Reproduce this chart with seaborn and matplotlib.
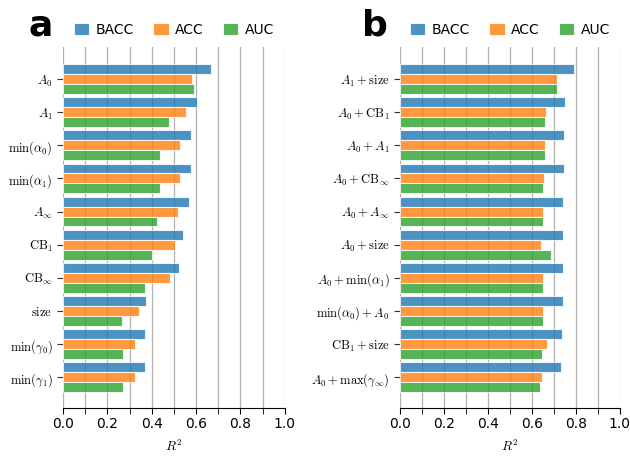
import pandas as pd
import numpy as np
import matplotlib
matplotlib.use("Agg")
import matplotlib.pyplot as plt
from matplotlib.ticker import MultipleLocator
import seaborn as sns

# data
metrics = ['BACC', 'ACC', 'AUC']

feat_a = [r'$A_0$', r'$A_1$', r'$\min(\alpha_0)$', r'$\min(\alpha_1)$', r'$A_\infty$',
          r'$\mathrm{CB}_1$', r'$\mathrm{CB}_\infty$', r'$\mathrm{size}$',
          r'$\min(\gamma_0)$', r'$\min(\gamma_1)$']
bacc_a = [0.668, 0.606, 0.578, 0.578, 0.568, 0.540, 0.522, 0.374, 0.371, 0.371]
acc_a = [0.582, 0.554, 0.528, 0.528, 0.519, 0.503, 0.482, 0.341, 0.323, 0.323]
auc_a = [0.590, 0.476, 0.437, 0.437, 0.423, 0.401, 0.368, 0.264, 0.269, 0.269]

feat_b = [r'$A_1+\mathrm{size}$', r'$A_0+\mathrm{CB}_1$', r'$A_0+A_1$',
          r'$A_0+\mathrm{CB}_\infty$', r'$A_0+A_\infty$', r'$A_0+\mathrm{size}$',
          r'$A_0+\min(\alpha_1)$', r'$\min(\alpha_0)+A_0$', r'$\mathrm{CB}_1+\mathrm{size}$',
          r'$A_0+\max(\gamma_\infty)$']
bacc_b = [0.790, 0.748, 0.747, 0.744, 0.739, 0.739, 0.739, 0.739, 0.736, 0.733]
acc_b = [0.712, 0.662, 0.661, 0.655, 0.649, 0.640, 0.649, 0.649, 0.667, 0.644]
auc_b = [0.712, 0.661, 0.661, 0.652, 0.649, 0.685, 0.649, 0.649, 0.645, 0.635]

colors = ['tab:blue', 'tab:orange', 'tab:green']

plt.rcParams['mathtext.fontset'] = 'cm'
plt.rcParams['font.family'] = 'DejaVu Sans'


def long_form(feats, bacc, acc, auc):
    rows = []
    for vals, m in zip([bacc, acc, auc], metrics):
        for f, v in zip(feats, vals):
            rows.append({'feature': f, 'metric': m, 'value': v})
    return pd.DataFrame(rows)


fig = plt.figure(figsize=(6.3, 4.57), dpi=100)
ax_a = fig.add_axes([0.100, 0.108, 0.352, 0.790])
ax_b = fig.add_axes([0.635, 0.108, 0.349, 0.790])

panels = [(ax_a, long_form(feat_a, bacc_a, acc_a, auc_a), feat_a),
          (ax_b, long_form(feat_b, bacc_b, acc_b, auc_b), feat_b)]

for ax, df, feats in panels:
    sns.barplot(data=df, y='feature', x='value', hue='metric', order=feats,
                hue_order=metrics, palette=colors, saturation=1, orient='h',
                width=0.9, alpha=0.8, edgecolor='white', linewidth=0.8, ax=ax)
    ax.set_xlim(0, 1.0)
    ax.set_ylim(9.92, -0.98)
    ax.xaxis.set_major_locator(MultipleLocator(0.2))
    ax.xaxis.set_minor_locator(MultipleLocator(0.1))
    ax.grid(True, axis='x', which='both', color='#b0b0b0', linewidth=0.9)
    ax.set_axisbelow(True)
    for s in ['top', 'right', 'left']:
        ax.spines[s].set_visible(False)
    ax.spines['bottom'].set_color('black')
    ax.tick_params(axis='x', which='both', length=4, pad=3, labelsize=10, color='black')
    ax.tick_params(axis='y', length=4, labelsize=9, color='#333333')
    ax.set_xlabel(r'$R^2$', fontsize=9.5, labelpad=5)
    ax.set_ylabel('')
    if ax.get_legend() is not None:
        ax.get_legend().remove()
    handles, labels = ax.get_legend_handles_labels()
    ax.legend(handles[:3], labels[:3], loc='lower center', bbox_to_anchor=(0.5, 1.0),
              ncol=3, frameon=False, fontsize=10, handlelength=1.1,
              handleheight=1.0, handletextpad=0.45, columnspacing=1.4,
              borderaxespad=0.3)

fig.text(28 / 630, 1 - 35 / 457, 'a', fontsize=26, fontweight='bold')
fig.text(362 / 630, 1 - 35 / 457, 'b', fontsize=26, fontweight='bold')

plt.savefig('out.png', dpi=100)
